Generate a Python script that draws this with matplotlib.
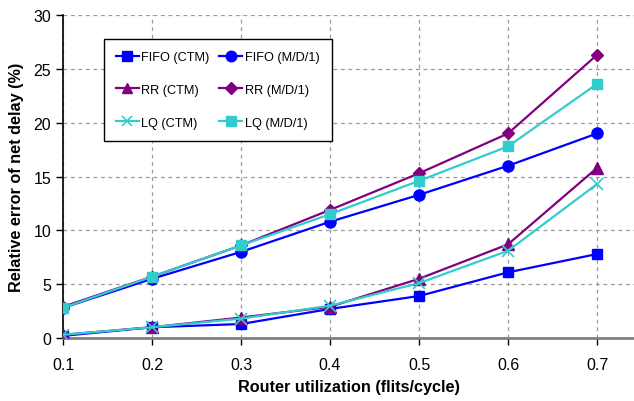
import matplotlib
matplotlib.use("Agg")
import matplotlib.pyplot as plt

x = [0.1, 0.2, 0.3, 0.4, 0.5, 0.6, 0.7]
fifo_ctm = [0.2, 1.0, 1.3, 2.7, 3.9, 6.1, 7.8]
fifo_md1 = [2.8, 5.5, 8.0, 10.8, 13.3, 16.0, 19.0]
rr_ctm = [0.3, 1.0, 1.9, 2.9, 5.5, 8.7, 15.8]
rr_md1 = [2.9, 5.7, 8.6, 11.9, 15.3, 19.0, 26.3]
lq_ctm = [0.3, 1.0, 1.8, 3.0, 5.1, 8.1, 14.3]
lq_md1 = [2.8, 5.7, 8.6, 11.5, 14.6, 17.8, 23.6]

xticks = [0.1, 0.2, 0.3, 0.4, 0.5, 0.6, 0.7]
yticks = [0, 5, 10, 15, 20, 25, 30]

plt.rcParams['font.family'] = ['Liberation Sans', 'DejaVu Sans']

BLUE = '#0000FF'
PURPLE = '#800080'
TEAL = '#33CCCC'

fig = plt.figure(figsize=(6.34, 4.02), dpi=100)
ax = fig.add_axes([0.0994, 0.1567, 0.9006, 0.8033])

lw = 1.6
h1, = ax.plot(x, fifo_ctm, color=BLUE, lw=lw, marker='s', ms=7.5, label='FIFO (CTM)', zorder=3)
h2, = ax.plot(x, rr_ctm, color=PURPLE, lw=lw, marker='^', ms=8, label='RR (CTM)', zorder=3)
h3, = ax.plot(x, lq_ctm, color=TEAL, lw=lw, marker='x', ms=8, mew=1.2, label='LQ (CTM)', zorder=4)
h4, = ax.plot(x, fifo_md1, color=BLUE, lw=lw, marker='o', ms=8, label='FIFO (M/D/1)', zorder=3)
h5, = ax.plot(x, rr_md1, color=PURPLE, lw=lw, marker='D', ms=6, label='RR (M/D/1)', zorder=3)
h6, = ax.plot(x, lq_md1, color=TEAL, lw=lw, marker='s', ms=7.5, label='LQ (M/D/1)', zorder=3)

ax.set_xlim(0.1, 0.1 + (634 - 63) / 89.0 * 0.1)
ax.set_ylim(0, 30)
ax.set_xticks(xticks)
ax.set_xticklabels([f"{v:.1f}" for v in xticks])
ax.set_yticks(yticks)
ax.tick_params(axis='both', direction='out', length=5, width=1, labelsize=11.5, colors='black')
ax.tick_params(axis='x', pad=9)

ax.grid(True, color='#999999', linestyle=(0, (3, 3)), linewidth=0.9)
ax.set_axisbelow(True)
for s in ['top', 'right']:
    ax.spines[s].set_visible(False)
ax.spines['left'].set_color('black')
ax.spines['left'].set_linewidth(1.2)
ax.spines['bottom'].set_color('#808080')
ax.spines['bottom'].set_linewidth(2)

ax.set_xlabel('Router utilization (flits/cycle)', fontsize=11.7, fontweight='bold', labelpad=5)
ax.set_ylabel('Relative error of net delay (%)', fontsize=11.7, fontweight='bold', labelpad=7)

leg = ax.legend(handles=[h1, h2, h3, h4, h5, h6], ncol=2, loc='upper left',
                bbox_to_anchor=(0.0712, 0.926), borderaxespad=0, fontsize=9.2,
                frameon=True, fancybox=False, edgecolor='black', framealpha=1,
                labelspacing=1.62, columnspacing=0.75, handlelength=1.8,
                handletextpad=0.2, borderpad=0.95, markerscale=0.95)
leg.get_frame().set_linewidth(1.0)

fig.savefig('out.png', dpi=100)
